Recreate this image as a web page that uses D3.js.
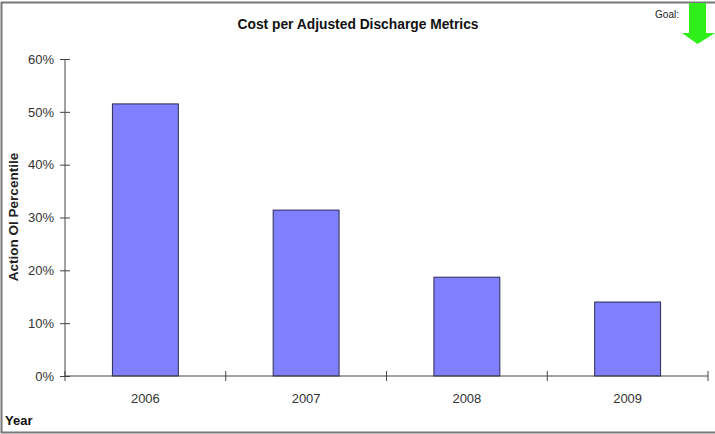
<!DOCTYPE html>
<html>
<head>
<meta charset="utf-8">
<script src="https://cdn.jsdelivr.net/npm/d3@7"></script>
<style>
  html, body { margin: 0; padding: 0; background: #fff; }
  svg { display: block; font-family: Arial, "Liberation Sans", sans-serif; }
</style>
</head>
<body>
<svg id="chart" width="715" height="434"></svg>
<script>
// Chart data
const years = ["2006", "2007", "2008", "2009"];
const percentile = [0.515, 0.314, 0.187, 0.140];
const yTicks = [0, 0.1, 0.2, 0.3, 0.4, 0.5, 0.6];

const svg = d3.select("#chart");
const plot = { left: 65, right: 708, top: 59, bottom: 376 };

// Frame around the whole chart
svg.append("path")
  .attr("d", `M716,2.5 H1.5 V432.5 H716`)
  .attr("fill", "none")
  .attr("stroke", "#777")
  .attr("stroke-width", 2);

// Title
svg.append("text")
  .attr("x", 358).attr("y", 29)
  .attr("text-anchor", "middle")
  .attr("font-size", 13.8).attr("font-weight", "bold")
  .attr("fill", "#111")
  .text("Cost per Adjusted Discharge Metrics");

// Goal indicator: downward green arrow
svg.append("text")
  .attr("x", 679).attr("y", 18)
  .attr("text-anchor", "end")
  .attr("font-size", 10)
  .attr("fill", "#222")
  .text("Goal:");
svg.append("path")
  .attr("d", "M689,3 H706 V33 H715 L697.5,44 L682,33 H689 Z")
  .attr("fill", "#2fee1a");

// Scales
const x = d3.scaleBand().domain(years).range([plot.left, plot.right]).padding(0);
const y = d3.scaleLinear().domain([0, 0.6]).range([plot.bottom, plot.top]);
const barW = x.bandwidth() * 0.41;

// Bars
svg.append("g").selectAll("rect")
  .data(years.map((yr, i) => ({ yr, v: percentile[i] })))
  .join("rect")
  .attr("x", d => x(d.yr) + (x.bandwidth() - barW) / 2)
  .attr("y", d => y(d.v))
  .attr("width", barW)
  .attr("height", d => y(0) - y(d.v))
  .attr("fill", "#8080ff")
  .attr("stroke", "#2a2a55")
  .attr("stroke-width", 1);

// Y axis with ticks crossing the line
const yAxis = d3.axisLeft(y)
  .tickValues(yTicks)
  .tickFormat(d3.format(".0%"))
  .tickSize(5)
  .tickPadding(6);
const gy = svg.append("g").attr("transform", `translate(${plot.left},0)`).call(yAxis);
gy.select(".domain").attr("stroke", "#444").attr("d", `M0,${plot.top}V${plot.bottom}`);
gy.selectAll(".tick line").attr("stroke", "#444").attr("x1", 5).attr("x2", -5);
gy.selectAll(".tick text").attr("font-size", 13).attr("fill", "#333")
  .attr("font-family", "Arial, 'Liberation Sans', sans-serif");

// X axis: category boundaries marked with ticks
const gx = svg.append("g").attr("transform", `translate(0,${plot.bottom})`);
gx.append("line")
  .attr("x1", plot.left).attr("x2", plot.right)
  .attr("stroke", "#444");
const bounds = years.map(yr => x(yr)).concat([plot.right]);
gx.selectAll("line.tick").data(bounds).join("line")
  .attr("class", "tick")
  .attr("x1", d => d).attr("x2", d => d)
  .attr("y1", -5).attr("y2", 5)
  .attr("stroke", "#444");
gx.selectAll("text").data(years).join("text")
  .attr("x", d => x(d) + x.bandwidth() / 2)
  .attr("y", 27)
  .attr("text-anchor", "middle")
  .attr("font-size", 13).attr("fill", "#333")
  .text(d => d);

// Axis titles
svg.append("text")
  .attr("transform", "translate(18,217) rotate(-90)")
  .attr("text-anchor", "middle")
  .attr("font-size", 13.5).attr("font-weight", "bold")
  .attr("fill", "#222")
  .text("Action OI Percentile");
svg.append("text")
  .attr("x", 5).attr("y", 425)
  .attr("font-size", 13).attr("font-weight", "bold")
  .attr("fill", "#111")
  .text("Year");
</script>
</body>
</html>
